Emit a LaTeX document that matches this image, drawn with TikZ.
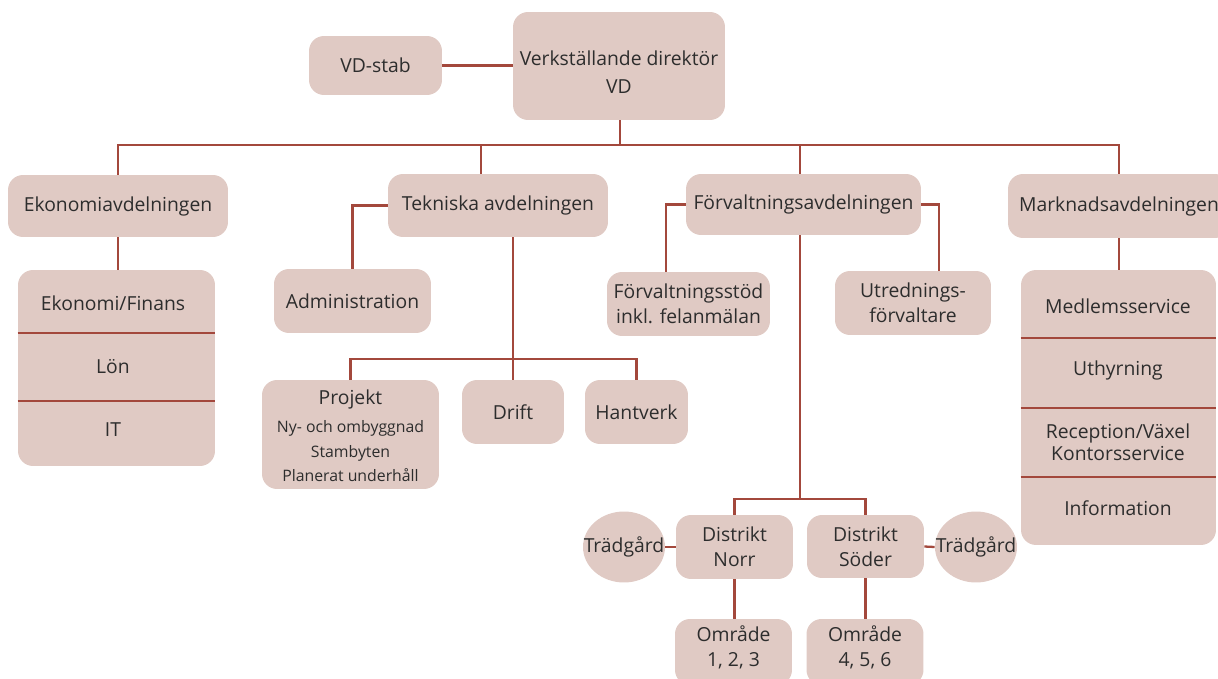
\documentclass[tikz,border=0pt]{standalone}
\usepackage{fontspec}
\setmainfont{Open Sans}
\usetikzlibrary{shapes.geometric}
\definecolor{boxfill}{RGB}{224,202,196}
\definecolor{linecol}{RGB}{163,72,60}
\definecolor{txtcol}{RGB}{45,45,45}
\newcommand{\subsz}{\fontsize{9}{11.5}\selectfont}
\begin{document}
\begin{tikzpicture}[x=0.02cm,y=-0.02cm,
  box/.style={fill=boxfill, rounded corners=0.3cm, inner sep=0pt, align=center, text=txtcol, font=\fontsize{11}{14}\selectfont},
  oval/.style={ellipse, fill=boxfill, inner sep=0pt, minimum width=1.64cm, minimum height=1.42cm},
  lbl/.style={text=txtcol, align=center, inner sep=0pt, font=\fontsize{11}{14}\selectfont},
  conn/.style={draw=linecol, line width=1.3pt}]
\useasboundingbox (0,0) rectangle (1218,679);
\clip (0,0) rectangle (1218,679);

% top level
\node[box, minimum width=4.24cm, minimum height=2.16cm] (vd) at (619,66) {};
\node[lbl, font=\fontsize{11}{16}\selectfont] (vdt) at (619,72) {Verkställande direktör\\VD};
\node[box, minimum width=2.66cm, minimum height=1.18cm] (vdstab) at (375.5,65.5) {VD-stab};

% departments
\node[box, minimum width=4.4cm, minimum height=1.24cm] (eko) at (118,206) {Ekonomiavdelningen};
\node[box, minimum width=4.4cm, minimum height=1.26cm] (tek) at (498,205.5) {Tekniska avdelningen};
\node[box, minimum width=4.7cm, minimum height=1.22cm] (forv) at (803.5,204.5) {Förvaltningsavdelningen};
\node[box, minimum width=4.44cm, minimum height=1.28cm] (mark) at (1119,206) {Marknadsavdelningen};

% Tekniska
\node[box, minimum width=3.14cm, minimum height=1.28cm] (admin) at (352.5,301) {Administration};
\node[box, minimum width=3.54cm, minimum height=2.18cm] (projekt) at (350.5,434.5) {};
\node[lbl] (projektt) at (350.5,436) {Projekt\\[2pt]{\subsz Ny- och ombyggnad}\\{\subsz Stambyten}\\{\subsz Planerat underhåll}};
\node[box, minimum width=2.04cm, minimum height=1.28cm] (drift) at (513,412) {Drift};
\node[box, minimum width=2.06cm, minimum height=1.28cm] (hant) at (636.5,412) {Hantverk};

% Forvaltning
\node[box, minimum width=3.26cm, minimum height=1.28cm] (fstod) at (688.5,304) {Förvaltningsstöd\\inkl. felanmälan};
\node[box, minimum width=3.12cm, minimum height=1.28cm] (utr) at (913,303) {Utrednings-\\förvaltare};
\node[box, minimum width=2.34cm, minimum height=1.28cm] (norr) at (734.5,547) {Distrikt\\Norr};
\node[box, minimum width=2.34cm, minimum height=1.26cm] (soder) at (865.5,546.5) {Distrikt\\Söder};
\node[oval] (tradL) at (624,547) {};
\node[lbl] (tradLt) at (tradL) {Trädgård};
\node[oval] (tradR) at (976,547) {};
\node[lbl] (tradRt) at (tradR) {Trädgård};
\node[box, minimum width=2.34cm, minimum height=1.32cm] (omr1) at (733.5,652) {};
\node[lbl] (omr1t) at (733.5,647.5) {Område\\1, 2, 3};
\node[box, minimum width=2.34cm, minimum height=1.32cm] (omr2) at (865,652) {};
\node[lbl] (omr2t) at (865,647.5) {Område\\4, 5, 6};

% stacks
\node[box, minimum width=3.94cm, minimum height=3.92cm] (ekostack) at (116.5,368) {};
\node[box, minimum width=3.9cm, minimum height=5.5cm] (markstack) at (1118.5,407.5) {};
\node[lbl] (ekof) at (113,303) {Ekonomi/Finans};
\node[lbl] (lon) at (113,367) {Lön};
\node[lbl] (it) at (113,430) {IT};
\node[lbl] (medl) at (1118,306) {Medlemsservice};
\node[lbl] (uthy) at (1118,370) {Uthyrning};
\node[lbl, font=\fontsize{11}{12.5}\selectfont] (recep) at (1118,442.5) {Reception/Växel\\Kontorsservice};
\node[lbl] (info) at (1118,508) {Information};

% dividers
\coordinate (e1) at (0,333);
\coordinate (e2) at (0,401);
\coordinate (m1) at (0,338);
\coordinate (m2) at (0,408);
\coordinate (m3) at (0,477);
\draw[conn] (ekostack.west |- e1) -- (ekostack.east |- e1);
\draw[conn] (ekostack.west |- e2) -- (ekostack.east |- e2);
\draw[conn] (markstack.west |- m1) -- (markstack.east |- m1);
\draw[conn] (markstack.west |- m2) -- (markstack.east |- m2);
\draw[conn] (markstack.west |- m3) -- (markstack.east |- m3);

% connectors
\coordinate (bus) at (620,145);
\coordinate (tekdrop) at (481,145);
\coordinate (forvdrop) at (800,145);
\draw[conn] (vd.south -| bus) -- (bus);
\draw[conn] (eko.north) |- (bus) -| (mark.north);
\draw[conn] (tekdrop) -- (tekdrop |- tek.north);
\draw[conn] (forvdrop) -- (forvdrop |- forv.north);
\draw[conn] (vdstab.east) -- (vdstab.east -| vd.west);
\draw[conn] (eko.south) -- (eko.south |- ekostack.north);
\draw[conn] (mark.south) -- (mark.south |- markstack.north);

\draw[conn] (tek.west) -| (admin.north);
\coordinate (tbus) at (513,359);
\draw[conn] (tek.south -| tbus) -- (tbus);
\draw[conn] (projekt.north) |- (tbus) -| (hant.north);
\draw[conn] (tbus) -- (drift.north);

\coordinate (fsl) at (666,0);
\coordinate (fsr) at (939,0);
\draw[conn] (forv.west) -| (fsl |- fstod.north);
\draw[conn] (forv.east) -| (fsr |- utr.north);
\coordinate (fbus) at (800,499);
\draw[conn] (forv.south -| fbus) -- (fbus);
\draw[conn] (norr.north) |- (fbus) -| (soder.north);
\draw[conn] (tradL.east) -- (norr.west);
\draw[conn] (soder.east) -- (tradR.west);
\draw[conn] (norr.south) -- (norr.south |- omr1.north);
\draw[conn] (soder.south) -- (soder.south |- omr2.north);
\end{tikzpicture}
\end{document}
